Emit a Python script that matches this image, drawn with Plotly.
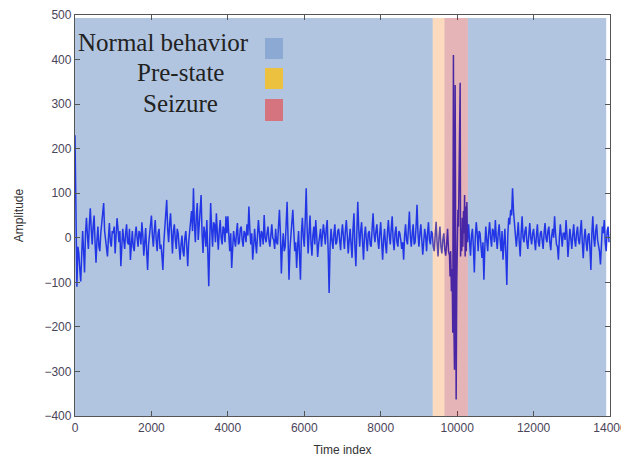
import numpy as np
import plotly.graph_objects as go

# ---------------- data ----------------
# amplitude, sampled every 25 time units from 0 to 9775
amp_0_975 = [230, 60, -110, -20, -35, -70, -98, -40, 15, -30, -78, 10, 45, 5, -25, 30, 66, 20, -15, 25,
             50, -10, -56, -5, 25, -20, -30, 10, 40, 55, 78, 15, -5, -30, -42, 0, 33, -10, -20, 15]
amp_1000_1975 = [10, 25, -35, 5, 44, 20, -10, 15, -64, -20, 20, -5, -25, 10, 30, -10, -15, 20, -50, -15,
                 15, -20, -30, 5, 25, 0, -20, 15, 10, -15, 35, 5, -40, -10, 22, -30, -72, -15, 5, 20]
amp_2000_2975 = [50, 5, -20, 15, 40, -5, -30, 10, 20, -25, -15, -40, -72, -10, 30, 45, 85, 20, -10, 30,
                 55, 10, -35, 15, 30, -5, -25, 20, 10, -20, -49, -15, 5, -30, -42, 0, 15, -20, -64, -10]
amp_3000_3975 = [20, 45, 60, 15, 111, 30, -10, 50, 78, -5, 30, 65, 96, 10, -34, 25, 10, -20, 40, -30,
                 -109, -10, 78, 20, -20, 35, 30, -10, 55, 10, -27, 15, 40, 0, -15, 25, 20, -10, 48, 10]
amp_4000_4975 = [48, 5, -30, 10, -68, -25, 15, -5, -20, 10, 33, -15, -10, 20, 25, -5, -20, 15, 10, -10,
                 30, 5, 70, 20, -15, 10, -49, -20, 20, -10, -35, 5, 40, 10, -20, 15, 10, -15, 51, 0]
amp_5000_5975 = [-10, 10, 25, -5, -20, 5, 30, 0, -5, -25, 20, -10, -15, 25, 63, 10, -80, -20, 10, -30,
                 -20, 30, 81, 0, -94, -25, 20, 35, 63, 5, -30, -10, -68, -20, 15, -40, -94, 10, 45, 0]
amp_6000_6975 = [-20, 40, 111, 20, -35, 10, 50, -10, -40, 5, 25, -15, 40, 5, -43, -15, 10, 20, -20, 5,
                 30, 10, -15, 20, 40, -30, -124, -20, 20, -5, -25, 10, 30, -15, -10, 15, 20, -5, -28, 10]
amp_7000_7975 = [30, 0, -25, 15, 40, 5, -35, -5, 20, -15, -45, 20, 55, -20, -64, 10, 81, 20, -20, 15,
                 35, -10, -49, 5, 25, -5, -30, 10, 15, -15, -20, 20, 55, 10, -10, 15, 30, -5, -25, 10]
amp_8000_8975 = [35, -10, -49, -5, 20, -15, -35, 10, 40, 5, -15, 20, 48, -5, -28, 10, 25, -10, -20, 15,
                 10, -5, -25, -10, -49, 5, 30, -5, -15, 20, 59, 5, -20, 10, 30, -15, -10, 25, 74, 10]
amp_9000_9775 = [-20, 10, 30, -5, -38, -10, 20, 5, -30, 10, 35, -5, -15, 15, 10, -20,
                 -30, 5, 36, -10, -42, 0, 25, -20, -35, -5, 10, -25, -40, -15, 20, -30]

# seizure burst (irregular time indices)
seizure_t = [9800, 9815, 9830, 9850, 9870, 9885, 9903, 9915, 9930,
             9948, 9960, 9974, 9990, 10005, 10020, 10035, 10050, 10060, 10070,
             10079, 10090, 10105, 10120, 10135, 10150, 10165, 10180, 10195, 10210,
             10225, 10240, 10255, 10270, 10285]
seizure_amp = [-40, -87, -30, -120, -70, -213, 410, -190, -296,
               343, -250, -363, -100, 40, 63, 25, 215, 180, 230,
               348, -42, 20, -30, 45, -20, 60, 10, 96, -42,
               70, -30, 80, -10, 30]

# after the seizure, every 25 time units from 10300 to 13975
amp_10300_10975 = [30, -10, -40, 5, 20, -20, -78, 0, 35, 10, -30, 15, 10, -20,
                   -45, -10, -94, -20, 25, -5, -30, 10, 35, 0, -20, 20, 15, -10]
amp_11000_11975 = [40, 0, -25, 10, 30, -5, -30, 15, -49, -10, 20, -40, -106, 5, 45, 30, 63, 50, 111, 60,
                   40, 5, -20, 15, 35, -10, -42, 10, 48, 0, -10, 15, 25, -10, -25, 5, 33, 0, -15, 10]
amp_12000_12975 = [20, -5, -28, 5, 30, -10, -20, 10, 15, -5, -25, 10, 33, 0, -10, 15, 25, -10, -28, 5,
                   20, 0, 48, 10, -15, -20, -49, 0, 30, 5, -20, 10, 10, -5, 40, 5, -43, -10, 20, 0]
amp_13000_13975 = [-25, 5, 30, -5, -20, 10, 25, -5, -15, 15, 40, -10, -46, 0, 20, -10, -30, 5, 10, -25,
                   -72, 10, 48, 0, -20, 15, 30, -5, -15, -30, -60, 0, 25, 10, 40, -10, -30, 15, 25, -10]

# state intervals (time index)
normal_1 = (0, 9360)
pre_state = (9360, 9667)
seizure = (9667, 10280)
normal_2 = (10280, 13900)

x_ticks = [0, 2000, 4000, 6000, 8000, 10000, 12000, 14000]
x_tick_text = ["0", "2000", "4000", "6000", "8000", "10000", "12000", "14000"]
y_ticks = [-400, -300, -200, -100, 0, 100, 200, 300, 400, 500]
legend_labels = ["Normal behavior", "Pre-state", "Seizure"]

# ---------------- assemble ----------------
amp_before = (amp_0_975 + amp_1000_1975 + amp_2000_2975 + amp_3000_3975 + amp_4000_4975 +
              amp_5000_5975 + amp_6000_6975 + amp_7000_7975 + amp_8000_8975 + amp_9000_9775)
amp_after = amp_10300_10975 + amp_11000_11975 + amp_12000_12975 + amp_13000_13975
t_before = list(np.arange(0, 25 * len(amp_before), 25))
t_after = list(np.arange(10300, 10300 + 25 * len(amp_after), 25))

t_all = t_before + seizure_t + t_after
amp_all = amp_before + seizure_amp + amp_after

fig = go.Figure()
fig.add_trace(go.Scatter(x=t_all, y=amp_all, mode="lines",
                         line=dict(color="#2236e6", width=1.5), showlegend=False,
                         hoverinfo="skip"))

y_top = 493
blue = "#b1c5e0"
for a, b in (normal_1, normal_2):
    fig.add_shape(type="rect", x0=a, x1=b, y0=-400, y1=y_top, xref="x", yref="y",
                  fillcolor=blue, line_width=0, layer="below")
fig.add_shape(type="rect", x0=pre_state[0], x1=pre_state[1], y0=-400, y1=y_top,
              xref="x", yref="y", fillcolor="rgba(244,123,23,0.28)", line_width=0, layer="above")
fig.add_shape(type="rect", x0=seizure[0], x1=seizure[1], y0=-400, y1=y_top,
              xref="x", yref="y", fillcolor="rgba(165,5,12,0.3)", line_width=0, layer="above")

# legend (text + colour squares)
W, H, L, T = 535.0, 401.0, 75.0, 15.0
def px_x(p): return (p - L) / W
def px_y(p): return (T + H - p) / H

legend_pos = [(163, 42), (180, 72), (180.5, 103)]
legend_cols = ["#8ba9d3", "#ebc13f", "#d5737e"]
square_rows = [(38, 59), (68, 89), (99, 121)]
for lab, (cx, cy) in zip(legend_labels, legend_pos):
    fig.add_annotation(text=lab, x=px_x(cx), y=px_y(cy), xref="paper", yref="paper",
                       xanchor="center", yanchor="middle", showarrow=False,
                       font=dict(family="Liberation Serif", size=25, color="#222222"))
for col, (ya, yb) in zip(legend_cols, square_rows):
    fig.add_shape(type="rect", x0=px_x(265), x1=px_x(283), y0=px_y(yb), y1=px_y(ya),
                  xref="paper", yref="paper", fillcolor=col, line_width=0, layer="above")

axis_common = dict(showline=True, linecolor="#555555", linewidth=1.3, mirror="ticks",
                   ticks="inside", ticklen=5, tickcolor="#555555", showgrid=False,
                   zeroline=False, automargin=False,
                   tickfont=dict(family="Liberation Sans", size=12, color="#4a4458"),
                   title_font=dict(family="Liberation Sans", size=12, color="#333333"))
fig.update_xaxes(range=[0, 14000], tickvals=x_ticks, ticktext=x_tick_text,
                 ticklabeloverflow="allow",
                 title_text="Time index", title_standoff=14, **axis_common)
fig.update_yaxes(range=[-400, 500], tickvals=y_ticks, title_text="Amplitude",
                 title_standoff=18, **axis_common)

fig.update_layout(width=621, height=457, margin=dict(l=75, r=11, t=15, b=41),
                  paper_bgcolor="white", plot_bgcolor="white")
fig.write_html("out.html")
